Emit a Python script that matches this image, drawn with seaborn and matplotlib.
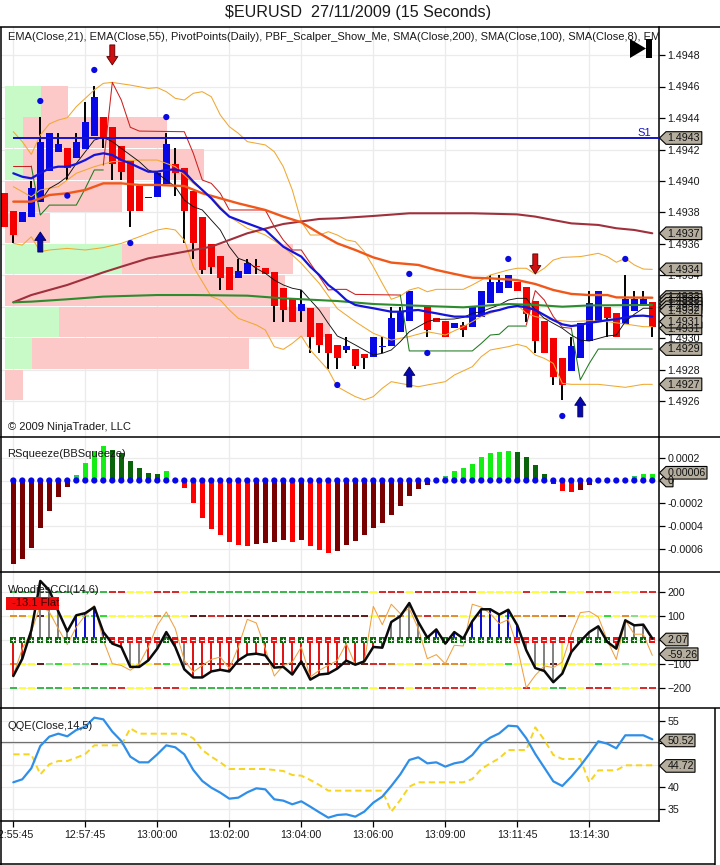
import numpy as np
import matplotlib
matplotlib.use("Agg")
import matplotlib.pyplot as plt
from matplotlib.patches import Polygon
import seaborn as sns

# ---------- data (price values are pips above 1.4900) ----------
candle_idx = list(range(-1, 72))
opens = [39.24,38.10,37.38,37.71,38.65,40.63,41.82,42.08,41.46,42.01,42.88,44.08,43.45,42.24,41.33,39.70,38.90,39.00,39.81,41.06,40.81,39.38,37.73,36.0,35.26,34.52,33.82,34.08,34.6,34.46,34.24,33.21,32.49,31.75,31.92,30.96,30.27,29.59,29.27,29.33,29.02,28.81,29.45,29.52,30.39,31.11,np.nan,32.02,31.28,31.13,30.67,30.84,30.71,31.35,32.23,32.87,33.19,33.6,33.29,32.4,31.13,30.05,28.78,27.92,28.74,29.84,31.07,32.02,31.64,30.92,31.73,32.06,32.32]
closes = [37.08,36.57,38.05,39.56,42.50,43.03,42.33,40.81,42.50,43.77,45.31,42.77,41.06,40.55,38.10,38.10,38.98,40.49,42.33,40.53,38.10,36.08,34.35,34.52,33.82,33.08,34.31,34.77,34.55,34.08,32.06,31.81,31.03,32.2,30.08,29.59,29.06,28.74,29.54,28.27,28.74,30.08,29.5,31.28,31.76,33.03,np.nan,30.54,31.03,30.08,30.96,30.54,32.02,33.03,33.57,33.57,34.05,33.03,31.56,29.84,29.06,27.54,27.05,29.54,31.0,32.27,33.03,31.28,30.08,32.53,32.53,32.53,30.75]
highs = [39.24,38.10,38.05,40.0,44.04,43.03,43.03,42.08,43.03,45.03,46.05,44.08,43.45,42.24,41.33,39.70,38.98,40.65,43.03,42.08,40.81,39.38,37.73,36.0,35.26,34.52,35.03,35.03,35.03,34.46,34.24,33.21,32.49,33.08,31.92,30.96,30.27,29.59,30.08,29.33,29.02,30.08,30.08,32.02,32.02,33.03,np.nan,32.02,31.28,31.13,30.96,31.03,32.02,33.03,34.03,34.03,34.05,33.6,33.29,32.4,31.13,30.05,28.78,30.08,31.0,33.03,33.03,32.02,31.64,34.03,33.03,33.03,32.32]
lows = [37.08,36.06,37.38,37.71,38.65,40.63,41.82,40.06,41.46,42.01,42.88,42.08,40.06,40.06,37.10,38.10,38.90,39.00,39.81,39.05,36.06,35.03,34.10,34.10,33.08,33.08,33.82,34.08,34.1,34.08,31.03,31.03,31.03,31.03,29.06,29.06,28.04,28.04,29.06,28.04,28.04,28.81,29.06,29.52,30.39,31.11,np.nan,30.08,31.03,30.08,30.67,30.08,30.71,31.35,32.23,32.87,33.19,33.03,31.03,29.06,29.06,27.05,26.1,27.92,28.74,29.84,31.07,30.08,30.08,30.92,31.73,32.06,30.08]

ema21_idx = list(range(0, 72))
ema21 = [40.49,40.27,40.17,40.49,40.80,40.91,40.91,41.08,41.33,41.65,41.76,41.65,41.33,41.12,40.85,40.59,40.59,40.70,40.74,40.59,39.96,39.43,38.90,38.26,37.74,37.52,37.31,37.10,36.89,36.36,35.83,35.51,35.2,34.56,34.03,33.4,32.97,32.44,32.13,32.02,31.92,31.81,31.7,31.7,31.77,31.81,31.7,31.6,31.49,31.39,31.39,31.39,31.49,31.7,31.81,31.98,32.06,31.98,31.81,31.49,31.17,30.9,30.79,30.86,31.0,31.07,31.17,31.22,31.34,31.43,31.45,31.39]

ema55_idx = [0,2,3,4,6,8,10,12,14,16,19,21,23,25,28,30,32,34,36,38,40,42,45,47,49,51,53,56,58,60,62,64,66,67,71]
ema55 = [38.69,38.69,38.9,39.11,39.22,39.43,39.85,39.85,39.75,39.75,39.68,39.22,38.9,38.58,38.16,37.74,37.38,36.68,36.04,35.62,35.15,34.82,34.67,34.35,34.1,33.86,33.82,33.71,33.46,33.08,32.83,32.76,32.76,32.61,32.59]

sma200_idx = [0,2,6,10,12,15,19,22,26,30,34,36,40,44,51,56,58,60,62,65,67,69,71]
sma200 = [32.3,32.76,33.4,34.2,34.56,35.09,35.51,35.83,36.68,37.27,37.59,37.63,37.78,37.95,37.95,37.88,37.74,37.52,37.31,37.21,37.0,36.89,36.68]

sma100_idx = [0,2,6,10,16,20,26,30,36,40,44,50,55,58,61,64,71]
sma100 = [32.3,32.34,32.49,32.66,32.76,32.76,32.72,32.55,32.38,32.19,32.1,31.98,32.19,32.13,32.02,32.1,32.13]

sma8_idx = list(range(3, 72))
sma8 = [38.69,39.53,39.85,40.27,41.12,41.86,42.6,42.77,42.5,42.07,41.65,41.23,40.7,40.49,40.06,39.64,38.79,38.37,38.16,37.52,36.89,35.83,35.09,34.88,34.45,34.14,33.71,33.4,33.19,33.08,32.44,31.81,30.96,30.16,29.9,29.59,29.27,28.95,29.06,29.27,29.8,30.43,30.75,31.07,31.22,31.22,31.24,31.34,31.6,31.7,31.92,32.13,32.44,32.55,32.55,31.81,31.28,30.96,30.65,30.22,29.9,29.84,30.0,30.16,30.22,31.07,31.54,31.92,31.92]

upper_idx = [0,1,2,3,4,5,6,7,8,9,10,11,13,15,16,17,18,19,20,21,22,23,24,25,26,28,29,30,31,32,33,34,35,36,37,38,39,40,41,42,43,44,45,46,47,50,51,52,53,55,56,57,58,59,60,61,63,64,65,66,67,68,69,70,71]
upper = [43.13,42.5,41.69,42.92,43.62,43.87,44.02,44.72,45.25,45.78,46.2,46.26,46.09,45.88,45.93,45.67,45.25,45.14,45.57,45.67,45.35,44.19,43.45,43.03,42.5,42.29,41.86,40.91,39.43,37.42,36.57,36.57,36.78,36.57,36.26,36.15,35.51,34.56,33.5,32.49,32.7,33.08,33.23,32.97,33.12,33.12,33.4,33.71,34.03,34.35,34.46,34.46,34.1,34.46,34.98,35.15,35.2,35.3,35.41,35.2,34.84,35.09,34.67,34.41,34.39]

lower_idx = [0,1,2,3,4,6,8,10,12,13,14,16,17,18,19,20,21,22,23,24,25,26,27,28,29,30,31,32,33,34,35,36,37,38,39,40,41,42,43,44,45,46,48,49,51,52,53,55,56,57,58,59,60,61,62,65,68,70,71]
lower = [36.04,35.93,36.46,35.51,35.62,35.72,35.62,35.77,36.04,36.25,36.46,36.89,36.99,36.89,36.25,34.56,33.61,32.66,32.44,31.81,31.28,31.07,30.86,30.54,29.48,29.31,29.69,30.16,29.27,28.63,28.0,26.94,26.62,26.31,26.1,26.31,26.84,27.26,27.15,27.05,26.94,27.05,27.26,27.68,28.21,28.85,29.27,29.48,29.63,29.48,28.95,28.74,28.42,27.15,27.09,27.09,26.9,27.09,27.09]

middle_idx = [0,1,2,3,5,7,9,11,14,16,18,20,22,24,26,28,30,32,34,36,38,40,42,44,46,48,50,52,54,56,57,58,60,62,64,66,68,70,71]
middle = [39.64,39.32,39.0,39.43,39.64,40.49,40.91,41.23,41.33,41.33,40.91,39.85,39.0,37.74,37.0,36.57,35.83,34.77,33.5,31.9,31.07,30.33,29.9,30.12,30.43,30.22,30.75,31.39,31.81,32.13,31.6,31.39,31.17,31.07,31.13,31.07,30.92,30.75,30.75]

pivot_r1_idx = [0,2]
pivot_r1 = [40.95,40.95]
pivot_r2_idx = [10,11,12,13,14,19,20,21,22,23,24,28,29,30,31,32,33,34,35,36,37,38,43]
pivot_r2 = [41.0,46.26,45.14,43.41,43.17,43.13,41.76,40.06,39.85,39.22,38.16,38.16,37.1,36.25,35.62,35.62,34.77,33.93,33.08,33.12,33.12,32.8,32.76]
pivot_r3_idx = [57,58,59,60,61,62]
pivot_r3 = [30.86,33.04,32.44,31.39,30.71,30.65]
pivot_g1_idx = [2,3,4,7,8,9,10]
pivot_g1 = [40.95,37.84,38.47,38.47,39.53,40.7,40.7]
pivot_g2_idx = [43,44,51,52,53,54,55,57]
pivot_g2 = [32.76,29.21,29.21,29.69,30.22,30.27,30.79,30.79]
pivot_g3_idx = [62,63,64,65,71]
pivot_g3 = [30.65,27.37,28.42,29.33,29.33]

s1_level = 42.73
dot_idx = [3,9,17,6,13,36,44,46,55,61,68]
dot_val = [45.08,47.05,44.06,39.07,36.06,27.05,34.1,29.08,35.05,25.08,35.05]
up_arrow_idx = [3,44,63]
up_arrow_val = [36.76,28.19,26.29]
down_arrow_idx = [11,58]
down_arrow_val = [47.37,34.1]

band_lo = [44.08,42.08,40.06,38.05,36.06,34.1,32.06,30.11,28.06,26.1]
band_hi = [46.05,44.06,42.03,40.0,37.99,36.0,34.01,31.98,30.05,28.0]
band_green_end = [3.08,1.08,1.08,-0.92,-0.92,12.08,-0.92,5.08,2.08,-0.92]
band_pink_end = [6.08,17.08,21.2,12.08,4.08,31.08,30.2,35.2,26.2,1.08]

price_ticks = [1.4926,1.4928,1.4930,1.4932,1.4934,1.4936,1.4938,1.4940,1.4942,1.4944,1.4946,1.4948]
time_tick_idx = [0,8,16,24,32,40,48,56,64]
time_labels = ['12:55:45','12:57:45','13:00:00','13:02:00','13:04:00','13:06:00','13:09:00','13:11:45','13:14:30']

squeeze = [-7.34,-6.9,-5.94,-4.18,-2.69,-1.46,-0.58,0.44,1.52,2.63,3.07,2.69,2.4,1.67,1.14,0.7,0.58,0.79,0,-0.67,-1.99,-3.3,-4.27,-4.8,-5.41,-5.67,-5.76,-5.58,-5.5,-5.41,-5.23,-5.41,-5.23,-5.76,-6.11,-6.37,-6.2,-5.67,-5.32,-4.8,-4.18,-3.74,-3.04,-2.25,-1.37,-0.76,-0.41,0,0.41,0.79,1.14,1.49,2.1,2.37,2.46,2.63,2.54,2.02,1.32,0.53,-0.32,-0.94,-1.02,-0.85,-0.41,0,0,0,0,0.41,0.53,0.61]
squeeze_kind = "ddddddd" "t" "bbb" "gggggg" "b" "k" "rrrrrrrr" "dddd" "r" "d" "rrr" "ddddddddddd" "k" "t" "bbbbbbb" "gggg" "p" "rr" "dd" "kkkk" "t" "bb"

cci = [-150,-78,40,246,207,119,36,103,112,137,33,-15,-29,-112,-112,-85,-36,33,-29,-122,-156,-156,-131,-124,-131,-85,-61,-57,-64,-115,-112,-144,-89,-165,-144,-140,-119,-86,-103,-89,-29,-32,75,99,154,75,10,44,-15,33,6,78,128,128,106,126,61,-43,-117,-129,-176,-140,-50,-6,33,57,-8,-36,82,61,64,6]
cci_fast = [-147,-36,33,144,117,47,-19,54,103,144,-1,-99,-106,-126,-99,-29,61,117,47,-85,-133,-106,-81,-71,-119,-29,86,71,-36,-150,-106,-92,-29,-154,-126,-106,-85,-15,-103,-92,140,64,149,110,131,47,-78,-61,-99,-22,-25,149,137,110,68,85,-29,-199,-147,-108,-115,-92,26,114,119,96,-1,-81,82,24,24,-64]
stem_kind = "rrrggggbbbbrrggrggrg" + "r"*19 + "rrrggggbbgbbbbbbbbggggyrggggrgggr"
zero_kind = "g"*11 + "r"*6 + "g" + "r"*8 + "ggg" + "rgrg" + "rrrr" + "gg" + "g"*17 + "r"*7 + "gggg" + "r" + "ggg" + "r"
lvl_p200 = "g"*11 + "rryyyrrry" + "g"*19 + "gyrrryrrrrrrryyyyyryyggyyrrryyyrr"
lvl_m200 = "gyygggyggggrryyyrrry" + "g"*19 + "gyrrryrrrrrrryyyyyryyggyyrrryyyrr"
lvl_p100 = "ooydyyyylbbyyyyyolyy" + "ddrr" + "d"*15 + "dyoooyorooo" + "yyoyybooooodoyyybyolyyy"[:22]
lvl_m100 = "oyydlbylldbyyyyyobyr" + "dddrr" + "d"*14 + "drroyyoyooooyyyybyyyydyyyybyylyyy"
level_values = [200,100,-100,-200]

qqe_fast = [41.0,41.68,44.18,49.25,51.37,52.05,51.45,52.89,53.65,55.69,55.31,52.51,50.39,46.83,45.54,45.54,47.36,49.4,48.95,47.36,43.8,41.3,39.78,38.65,37.28,37.51,38.72,39.63,39.4,37.13,36.83,36.0,36.68,35.46,34.18,32.96,33.57,33.72,33.19,34.33,36.37,37.74,40.16,42.81,46.07,46.68,45.31,45.54,44.56,45.31,45.69,47.21,49.7,51.15,52.13,53.87,53.72,51.0,47.43,44.33,41.22,40.16,42.28,44.71,47.43,50.31,49.78,48.72,51.68,51.68,51.68,50.77]
qqe_slow_idx = [0,2,3,4,5,6,7,8,9,12,13,14,19,20,21,22,23,24,28,30,31,32,33,34,35,38,41,42,43,44,45,50,51,52,53,54,55,57,58,59,60,61,63,64,65,67,68,71]
qqe_slow = [47.36,47.36,42.81,45.09,45.84,45.84,46.6,47.43,49.4,49.4,53.27,52.05,52.05,51.0,48.34,46.83,45.54,44.02,44.02,43.57,42.66,42.51,41.52,40.39,39.1,39.1,39.1,34.33,36.98,40.01,41.0,41.0,41.75,44.02,45.31,46.45,48.34,48.34,53.49,50.62,47.21,46.3,46.3,41.0,43.72,43.72,44.86,44.86]
qqe_ref = 50.1

# ---------- look ----------
sns.set_style("white")
plt.rcParams['font.family'] = ['Liberation Sans', 'DejaVu Sans']
TXT = '#1a1a1a'
GRID = '#ebebeb'
TICKFS = 7.7
LABELFS = 8.0
W, H = 720, 865
fig = plt.figure(figsize=(W/100, H/100), dpi=100, facecolor='white')
L, R = 0.5, 658.5

def panel(top, bottom):
    ax = fig.add_axes([L/W, 1-bottom/H, (R-L)/W, (bottom-top)/H])
    ax.set_xlim((L-13.3)/9, (R-13.3)/9)
    for s in ('top', 'left', 'bottom'):
        ax.spines[s].set_visible(False)
    ax.spines['right'].set_color('black')
    ax.spines['right'].set_linewidth(1.1)
    ax.yaxis.tick_right()
    ax.set_xticks(time_tick_idx)
    ax.tick_params(axis='x', bottom=False, labelbottom=False)
    ax.tick_params(axis='y', right=True, length=4, width=0.9, color='black', labelsize=TICKFS,
                   labelcolor=TXT, pad=2.5)
    ax.grid(True, color=GRID, linewidth=0.9)
    ax.set_axisbelow(True)
    return ax

def line(ax, x, y, color, lw, z, **kw):
    sns.lineplot(x=np.asarray(x, float), y=np.asarray(y, float), ax=ax, color=color, linewidth=lw,
                 estimator=None, sort=False, legend=False, zorder=z, **kw)
    ax.set_xlabel(''); ax.set_ylabel('')

def px(v):
    return 1.49 + np.asarray(v, float)/1e4

# ---------- price panel ----------
T0, B0 = 27, 436.5
ax0 = panel(T0, B0)
ylim0 = (1.4948-(B0-55)/157500, 1.4948+(55-T0)/157500)
ax0.set_ylim(*ylim0)
ax0.set_yticks(price_ticks)
ax0.set_yticklabels([f'{t:.4f}' for t in price_ticks])

lo, hi = px(band_lo), px(band_hi)
ge, pe = np.array(band_green_end), np.array(band_pink_end)
left = (L+4.5-13.3)/9
ax0.barh((lo+hi)/2, ge-left, left=left, height=hi-lo, color='#c8fac8', zorder=1, linewidth=0)
ax0.barh((lo+hi)/2, pe-np.maximum(ge, left), left=np.maximum(ge, left), height=hi-lo, color='#fdc8c8', zorder=1, linewidth=0)

x = np.array(candle_idx, float)
o, c, h_, l_ = px(opens), px(closes), px(highs), px(lows)
ok = ~np.isnan(o)
ax0.vlines(x[ok], l_[ok], h_[ok], color='black', linewidth=1.4, zorder=3)
cols = np.where(c >= o, '#0808e6', '#f50000')
ax0.bar(x[ok], np.abs(c-o)[ok], bottom=np.minimum(o, c)[ok], width=0.72, color=cols[ok], linewidth=0, zorder=3.1)

band_col = '#f0a830'
line(ax0, upper_idx, px(upper), band_col, 0.75, 4)
line(ax0, lower_idx, px(lower), band_col, 0.75, 4)
line(ax0, middle_idx, px(middle), band_col, 0.75, 4)
line(ax0, sma8_idx, px(sma8), '#111111', 0.65, 4.2)
for a, b in ((pivot_r1_idx, pivot_r1), (pivot_r2_idx, pivot_r2), (pivot_r3_idx, pivot_r3)):
    line(ax0, a, px(b), '#cc2020', 0.75, 4.1)
for a, b in ((pivot_g1_idx, pivot_g1), (pivot_g2_idx, pivot_g2), (pivot_g3_idx, pivot_g3)):
    line(ax0, a, px(b), '#1f7a1f', 0.75, 4.1)
line(ax0, sma200_idx, px(sma200), '#a0303c', 1.5, 4.3)
line(ax0, sma100_idx, px(sma100), '#2e8b2e', 1.5, 4.3)
line(ax0, ema55_idx, px(ema55), '#f0581a', 1.7, 4.4)
line(ax0, ema21_idx, px(ema21), '#1414dc', 1.6, 4.5)
ax0.hlines(px(s1_level), 0, ax0.get_xlim()[1], color='#1414c8', linewidth=1.4, zorder=4.6)
sns.scatterplot(x=np.array(dot_idx, float), y=px(dot_val), ax=ax0, color='#0a0ae0', s=20,
                edgecolor='none', legend=False, zorder=5)
ax0.set_xlabel(''); ax0.set_ylabel('')
astyle = 'simple,head_length=6,head_width=8,tail_width=3.6'
for i, v in zip(up_arrow_idx, up_arrow_val):
    ax0.annotate('', xy=(i, px(v)), xytext=(i, px(v-1.27)), zorder=6,
                 arrowprops=dict(arrowstyle=astyle, mutation_scale=1, fc='#0808b0', ec='#000050', lw=.6, shrinkA=0, shrinkB=0))
for i, v in zip(down_arrow_idx, down_arrow_val):
    ax0.annotate('', xy=(i, px(v)), xytext=(i, px(v+1.27)), zorder=6,
                 arrowprops=dict(arrowstyle=astyle, mutation_scale=1, fc='#d01010', ec='#500000', lw=.6, shrinkA=0, shrinkB=0))
ax0.text(69.3, px(s1_level+0.3), 'S1', color='#1414c8', fontsize=8.0, ha='left', va='center', zorder=6)
ax0.text(7/(R-L), 1-(37-T0)/(B0-T0), 'EMA(Close,21), EMA(Close,55), PivotPoints(Daily), PBF_Scalper_Show_Me, SMA(Close,200), SMA(Close,100), SMA(Close,8), EMA(Close,5),',
         transform=ax0.transAxes, fontsize=LABELFS, color=TXT, ha='left', va='center', clip_on=True, zorder=7)
ax0.text(7/(R-L), (B0-427)/(B0-T0), '© 2009 NinjaTrader, LLC', transform=ax0.transAxes,
         fontsize=LABELFS, color=TXT, ha='left', va='center', zorder=7)

# ---------- squeeze panel ----------
T1, B1 = 436.5, 572
ax1 = panel(T1, B1)
ylim1 = (-(B1-480.5)/22.8*0.0002, (480.5-T1)/22.8*0.0002)
ax1.set_ylim(*ylim1)
sq_ticks = [-0.0006, -0.0004, -0.0002, 0, 0.0002]
ax1.set_yticks(sq_ticks)
ax1.set_yticklabels(['-0.0006', '-0.0004', '-0.0002', '0', '0.0002'])
sq = np.array(squeeze)*1e-4
sq_idx = np.arange(len(sq))
palette = {'d': '#780000', 'r': '#ff0000', 'g': '#0a640a', 'b': '#14ee14', 't': '#30c070', 'p': '#801040', 'k': '#ffffff'}
ax1.bar(sq_idx, sq, width=0.56, color=[palette[k] for k in squeeze_kind], linewidth=0, zorder=3)
sns.scatterplot(x=sq_idx.astype(float), y=np.zeros(len(sq)), ax=ax1, color='#0808e6', s=20, edgecolor='none', legend=False, zorder=4)
ax1.set_xlabel(''); ax1.set_ylabel('')
ax1.text(7/(R-L), (B1-454)/(B1-T1), 'RSqueeze(BBSqueeze)', transform=ax1.transAxes, fontsize=LABELFS, color=TXT, ha='left', va='center', zorder=7)

# ---------- CCI panel ----------
T2, B2 = 572, 708
ax2 = panel(T2, B2)
ylim2 = (-283.3, 283.3)
ax2.set_ylim(*ylim2)
ax2.set_yticks([-200, -100, 0, 100, 200])
lvl_col = {'g': '#33b544', 'r': '#d42020', 'y': '#ffff30', 'd': '#5c1010', 'o': '#e08c20', 'b': '#20e020', 'l': '#80e080'}
xs = np.arange(72)
for val, pat in zip(level_values, (lvl_p200, lvl_p100, lvl_m100, lvl_m200)):
    pat = (pat + pat[-1]*72)[:72]
    ax2.hlines([val]*72, xs-0.36, xs+0.36, colors=[lvl_col[p] for p in pat], linewidth=1.35, zorder=2)
stem_col = {'r': '#e01010', 'g': '#808080', 'b': '#0808d8', 'y': '#f0f040'}
sk = (stem_kind + 'r'*72)[:72]
ax2.vlines(xs, 0, cci, colors=[stem_col[k] for k in sk], linewidth=1.4, zorder=3)
line(ax2, xs, cci_fast, '#f0a040', 0.75, 4)
zk = np.array(list((zero_kind + 'g'*72)[:72]))
gm, rm = zk == 'g', zk == 'r'
ax2.scatter(xs[gm], np.zeros(gm.sum()), marker='s', s=17, color='#0a6a0a', linewidths=0, zorder=4.5)
ax2.scatter(xs[rm], np.zeros(rm.sum()), marker='s', s=17, color='#ee1010', linewidths=0, zorder=4.5)
ax2.scatter(xs[gm], np.zeros(gm.sum()), marker='+', s=7, color='white', linewidths=0.7, zorder=4.6)
ax2.scatter(xs[rm], np.zeros(rm.sum()), marker='_', s=7, color='white', linewidths=0.7, zorder=4.6)
line(ax2, xs, cci, '#0a0a0a', 1.8, 5)
ax2.text(7/(R-L), (B2-590)/(B2-T2), 'WoodiesCCI(14,6)', transform=ax2.transAxes, fontsize=LABELFS, color=TXT, ha='left', va='center', zorder=7)
ax2.text(11/(R-L), (B2-603.5)/(B2-T2), '-13.1 Flat', transform=ax2.transAxes, fontsize=LABELFS, color='#400000', ha='left', va='center', zorder=8)
ax2.add_patch(plt.Rectangle((5/(R-L), (B2-610)/(B2-T2)), 53/(R-L), 13/(B2-T2), transform=ax2.transAxes, fc='#f40a0a', ec='none', zorder=7.5))

# ---------- QQE panel ----------
T3, B3 = 708, 821
ax3 = panel(T3, B3)
ylim3 = (55-(B3-720.7)/4.4, 55+(720.7-T3)/4.4)
ax3.set_ylim(*ylim3)
ax3.set_yticks([35, 40, 45, 50, 55])
ax3.axhline(qqe_ref, color='#707070', linewidth=0.9, zorder=2)
line(ax3, qqe_slow_idx, qqe_slow, '#f6d420', 1.4, 3, linestyle=(0, (3.2, 2)))
line(ax3, np.arange(72), qqe_fast, '#2f8fe8', 1.6, 4)
ax3.text(7/(R-L), (B3-726)/(B3-T3), 'QQE(Close,14,5)', transform=ax3.transAxes, fontsize=LABELFS, color=TXT, ha='left', va='center', zorder=7)
ax3.spines['bottom'].set_visible(True)
ax3.spines['bottom'].set_color('black')
ax3.spines['bottom'].set_linewidth(1.1)
ax3.tick_params(axis='x', bottom=True, labelbottom=True, length=4.5, width=0.9, color='black', labelsize=TICKFS, labelcolor=TXT, pad=2)
ax3.set_xticklabels(time_labels)

# ---------- overlay: frame, title, value tags ----------
ov = fig.add_axes([0, 0, 1, 1], zorder=20)
ov.set_xlim(0, W); ov.set_ylim(H, 0); ov.axis('off'); ov.patch.set_alpha(0)

def hline(y, x0, x1):
    ov.plot([x0, x1], [y, y], color='black', lw=1.1, solid_capstyle='butt')
def vline(x, y0, y1):
    ov.plot([x, x], [y0, y1], color='black', lw=1.1, solid_capstyle='butt')
for y in (T0, B0, B1, B2):
    hline(y, 0, 720)
vline(0.7, T0, 864.5)
vline(714.5, B2, 864.5)
hline(864.3, 0, 714.5)
ov.text(358, 13, r'\$EURUSD  27/11/2009 (15 Seconds)', fontsize=11.6, color=TXT, ha='center', va='center')

ov.add_patch(Polygon([(630, 39), (630, 58), (646, 48.5)], closed=True, fc='black', ec='none'))
ov.add_patch(plt.Rectangle((646, 39), 6, 19, fc='black', ec='none'))

def tag(val, label, top, bottom, ylim, right):
    yp = top + (ylim[1]-val)/(ylim[1]-ylim[0])*(bottom-top)
    hh = 6.3
    pts = [(659.5, yp), (666, yp-hh), (right, yp-hh), (right, yp+hh), (666, yp+hh)]
    ov.add_patch(Polygon(pts, closed=True, fc='#b5ae9f', ec='black', lw=0.8))
    ov.text(667.5, yp+0.3, label, fontsize=TICKFS, color='#111111', ha='left', va='center')

price_tags = [(42.73, '1.4943'), (36.68, '1.4937'), (34.39, '1.4934'), (27.09, '1.4927'), (29.33, '1.4929'),
              (30.65, '1.4931'), (32.63, '1.4933'), (32.44, '1.4932'), (32.2, '1.4932'), (31.98, '1.4932'),
              (31.76, '1.4932'), (31.07, '1.4931')]
for v, s in price_tags:
    tag(px(v), s, T0, B0, ylim0, 701.8)
tag(0, '0', T1, B1, ylim1, 673)
tag(0.00006*1.13, '0.00006', T1, B1, ylim1, 707)
tag(-59.26, '-59.26', T2, B2, ylim2, 698)
tag(2.07, '2.07', T2, B2, ylim2, 688)
tag(44.72, '44.72', T3, B3, ylim3, 695)
tag(50.52, '50.52', T3, B3, ylim3, 695)

fig.savefig('out.png', dpi=100, facecolor='white')
